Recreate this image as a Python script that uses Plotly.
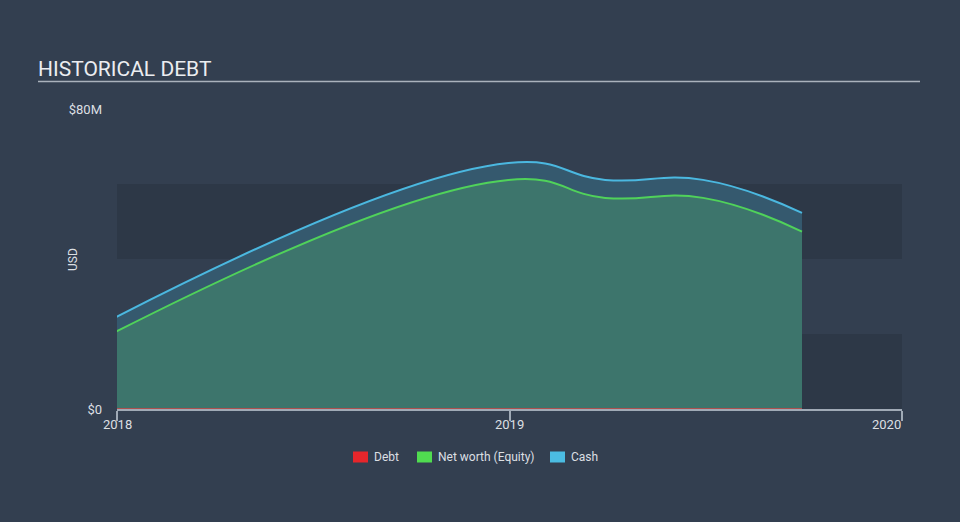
import plotly.graph_objects as go

# ---- data (USD millions) ----
dates = ["2017-12-31", "2018-12-31", "2019-03-31", "2019-06-30", "2019-09-30"]
debt = [0, 0, 0, 0, 0]
equity = [20.6, 61.1, 56.3, 56.3, 47.3]
cash = [24.5, 65.6, 61.1, 61.1, 52.3]

x_ticks = ["2018-01-01", "2019-01-01", "2020-01-01"]
x_tick_labels = ["2018", "2019", "2020"]
y_ticks = [0, 80]
y_tick_labels = ["$0", "$80M"]
band_ranges = [(0, 20), (40, 60)]
legend_names = ["Debt", "Net worth (Equity)", "Cash"]

BG = "rgb(51,63,80)"
BAND = "rgb(45,56,71)"
AXIS = "rgb(160,170,182)"
TXT = "rgb(220,223,227)"
FONT = "Roboto, Arial, sans-serif"

# plot-area pixel geometry helpers (for decorations only)
L, R, T, B = 117, 58, 109, 113
PW, PH = 960 - L - R, 522 - T - B
def px(x):
    return (x - L) / PW
def py(y):
    return (522 - B - y) / PH

fig = go.Figure()

fig.add_trace(go.Scatter(
    x=dates, y=cash, mode="lines", line=dict(color="rgb(75,184,224)", width=2, shape="spline", smoothing=1.3),
    fill="tozeroy", fillcolor="rgb(53,89,110)", showlegend=False, hoverinfo="skip"))
fig.add_trace(go.Scatter(
    x=dates, y=equity, mode="lines", line=dict(color="rgb(80,210,90)", width=2, shape="spline", smoothing=1.3),
    fill="tozeroy", fillcolor="rgb(61,117,108)", showlegend=False, hoverinfo="skip"))
fig.add_trace(go.Scatter(
    x=dates, y=debt, mode="lines", line=dict(color="rgb(210,70,70)", width=1.5),
    showlegend=False, hoverinfo="skip"))

shapes = []
for lo, hi in band_ranges:
    shapes.append(dict(type="rect", xref="paper", yref="y", x0=0, x1=1, y0=lo, y1=hi,
                       fillcolor=BAND, line=dict(width=0), layer="below"))
shapes.append(dict(type="line", xref="paper", yref="paper", x0=px(38), x1=px(920),
                   y0=py(81.5), y1=py(81.5), line=dict(color="rgb(170,178,188)", width=1.5)))

annotations = [dict(text="HISTORICAL DEBT", xref="paper", yref="paper", x=px(36), y=py(68.5),
                    xanchor="left", yanchor="middle", showarrow=False,
                    font=dict(family=FONT, size=21, color="rgb(235,237,240)"))]
annotations.append(dict(text="USD", xref="paper", yref="paper", x=px(73), y=py(260),
                        textangle=-90, xanchor="center", yanchor="middle", showarrow=False,
                        font=dict(family=FONT, size=12, color=TXT)))
anchors = ["center", "center", "right"]
for xv, lab, anc in zip(x_ticks, x_tick_labels, anchors):
    annotations.append(dict(text=lab, x=xv, xref="x", yref="paper", y=py(424),
                            xanchor=anc, yanchor="middle", showarrow=False,
                            xshift=(1 if anc == "right" else 0),
                            font=dict(family=FONT, size=13, color=TXT)))

# manual legend
leg_colors = ["rgb(230,38,43)", "rgb(80,220,80)", "rgb(75,188,226)"]
leg_x = [353, 417, 550]
for name, col, lx in zip(legend_names, leg_colors, leg_x):
    shapes.append(dict(type="rect", xref="paper", yref="paper", x0=px(lx), x1=px(lx + 15),
                       y0=py(462.5), y1=py(451.5), fillcolor=col, line=dict(width=0)))
    annotations.append(dict(text=name, xref="paper", yref="paper", x=px(lx + 18.5), y=py(457),
                            xanchor="left", yanchor="middle", showarrow=False,
                            font=dict(family=FONT, size=12, color=TXT)))

fig.update_layout(
    width=960, height=522,
    margin=dict(l=L, r=R, t=T, b=B),
    paper_bgcolor=BG, plot_bgcolor=BG,
    font=dict(family=FONT, color=TXT, size=12),
    shapes=shapes, annotations=annotations,
    showlegend=False,
    xaxis=dict(type="date", range=["2018-01-01", "2020-01-01"], tickvals=x_ticks, showticklabels=False,
               ticks="outside", ticklen=10, tickcolor=AXIS, tickwidth=1.5,
               showline=True, linecolor=AXIS, linewidth=1.5, showgrid=False, zeroline=False, fixedrange=True),
    yaxis=dict(range=[0, 80], tickvals=y_ticks, ticktext=y_tick_labels, showgrid=False, zeroline=False,
               showline=False, ticks="", ticklabelstandoff=14, tickfont=dict(family=FONT, size=13, color=TXT),
               fixedrange=True),
)

fig.write_html("out.html")
